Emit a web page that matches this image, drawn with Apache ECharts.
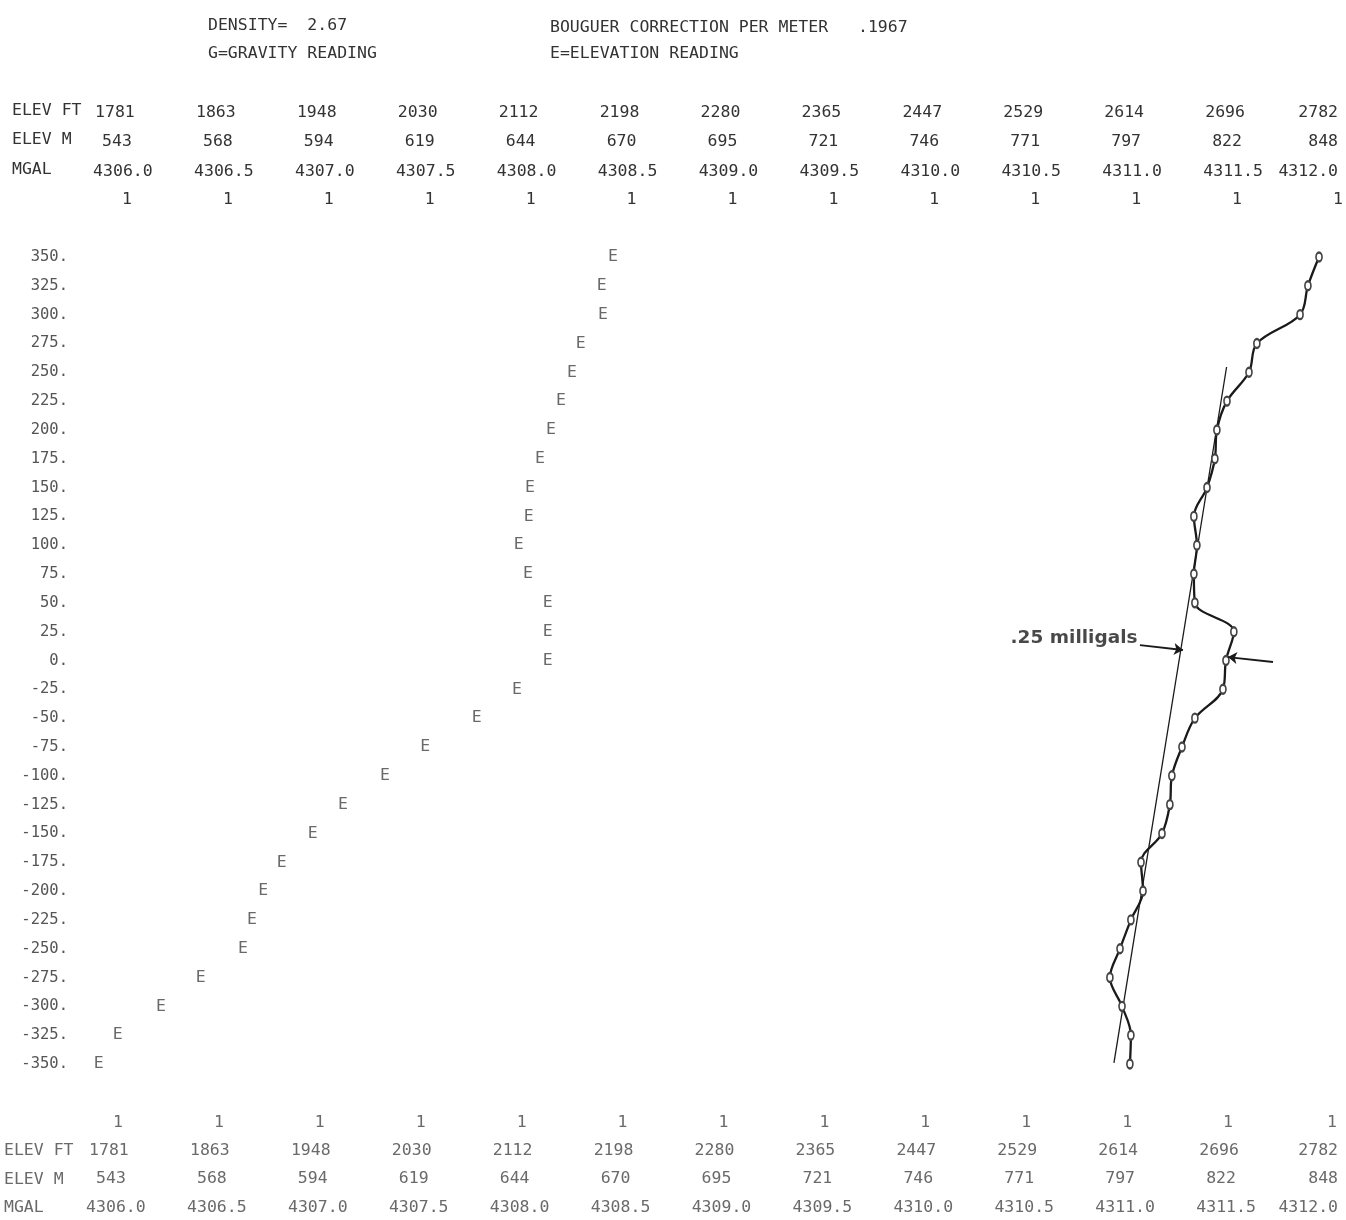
<!DOCTYPE html>
<html>
<head>
<meta charset="utf-8">
<script src="https://cdn.jsdelivr.net/npm/echarts@6/dist/echarts.min.js"></script>
<style>
html,body{margin:0;padding:0;background:#fff;}
#chart{width:1346px;height:1220px;}
</style>
</head>
<body>
<div id="chart"></div>
<script>
// ---- tick labels (printed header / footer rows) ----
const elevFt = ['1781','1863','1948','2030','2112','2198','2280','2365','2447','2529','2614','2696','2782'];
const elevM  = ['543','568','594','619','644','670','695','721','746','771','797','822','848'];
const mgal   = ['4306.0','4306.5','4307.0','4307.5','4308.0','4308.5','4309.0','4309.5','4310.0','4310.5','4311.0','4311.5','4312.0'];

// ---- vertical positions of the printed rows (y axis values) ----
const levels = [350,325,300,275,250,225,200,175,150,125,100,75,50,25,0,-25,-50,-75,-100,-125,-150,-175,-200,-225,-250,-275,-300,-325,-350];

// ---- E = elevation reading (metres) at each level ----
const elevReading = [665.4,662.6,662.9,657.3,655.1,652.3,649.8,647.0,644.5,644.2,641.7,644.0,649.0,649.0,649.0,641.2,631.1,618.1,608.0,597.4,589.8,582.0,577.3,574.5,572.2,561.6,551.6,540.7,535.9];

// ---- G = gravity reading (mgal) at each level ----
const gravReading = [4311.906,4311.851,4311.812,4311.598,4311.559,4311.450,4311.400,4311.390,4311.351,4311.286,4311.301,4311.286,4311.291,4311.484,4311.445,4311.430,4311.291,4311.227,4311.177,4311.167,4311.128,4311.024,4311.034,4310.974,4310.920,4310.870,4310.930,4310.974,4310.969];

// ---- hand-drawn regional trend line (mgal, level) ----
const trendX = [4311.448, 4310.890];
const trendY = [254.6, -349.1];

// ---- hand-drawn annotation arrows ----
const arrowLeftX = [4311.019, 4311.232];
const arrowLeftY = [13.4, 9.1];
const arrowRightX = [4311.678, 4311.455];
const arrowRightY = [-1.3, 3.0];
const annotationText = '.25 milligals';

const F = '"DejaVu Sans Mono", "Liberation Mono", monospace';
const FS = 16.5;
const mgMin = 4305.5, mgMax = 4312, mgStep = 0.5;
const mStep = (848 - 543) / 12;
const elevMin = 543 - mStep, elevMax = 848;

function idxOf(v){ const i = Math.round((v - 4306) / mgStep); return (i < 0 || i > 12) ? -1 : i; }

function threeRow(v){
  const i = idxOf(v);
  if (i < 0) return '';
  const s = i === 12 ? 'L' : '';
  return '{ft' + s + '|' + elevFt[i] + '}\n{m' + s + '|' + elevM[i] + '}\n{g' + s + '|' + mgal[i] + '}';
}
function oneRow(v){
  const i = idxOf(v);
  if (i < 0) return '';
  return i === 12 ? '{oL|1}' : '{o|1}';
}
function pr(shift){ return shift > 0 ? [0, 0, 0, 2*shift] : [0, -2*shift, 0, 0]; }

const topColor = '#333', botColor = '#6a6a6a';
function rich3(color, sh, lh){
  const b = {fontFamily:F, fontSize:FS, color:color, lineHeight:lh};
  return {
    ft: Object.assign({padding: pr(sh.ft)}, b),
    m:  Object.assign({padding: pr(sh.m)}, b),
    g:  Object.assign({padding: pr(sh.g)}, b),
    ftL: Object.assign({padding: [0,0,0,0]}, b),
    mL:  Object.assign({padding: [0,0,0,0]}, b),
    gL:  Object.assign({padding: [0,0,0,0]}, b)
  };
}
function rich1(color, sh, shL){
  const b = {fontFamily:F, fontSize:FS, color:color};
  return { o: Object.assign({padding: pr(sh)}, b), oL: Object.assign({padding: pr(shL)}, b) };
}

function baseX(extra){
  return Object.assign({
    type:'value', min:mgMin, max:mgMax, interval:mgStep, gridIndex:0,
    axisLine:{show:false}, axisTick:{show:false}, splitLine:{show:false}
  }, extra);
}

const chart = echarts.init(document.getElementById('chart'), null, {renderer:'canvas'});
const titleStyle = {fontFamily:F, fontSize:FS, fontWeight:'normal', color:'#333'};
const option = {
  animation:false,
  backgroundColor:'#ffffff',
  title:[
    {text:'DENSITY=  2.67', subtext:'G=GRAVITY READING', left:203, top:12, itemGap:11,
     textStyle:titleStyle, subtextStyle:titleStyle},
    {text:'BOUGUER CORRECTION PER METER   .1967', subtext:'E=ELEVATION READING', left:545, top:14, itemGap:9,
     textStyle:titleStyle, subtextStyle:titleStyle}
  ],
  grid:{left:26, right:8, top:257, bottom:156, containLabel:false, outerBoundsMode:'none'},
  xAxis:[
    baseX({position:'bottom', axisLabel:{margin:50, hideOverlap:false, showMinLabel:true, showMaxLabel:true, formatter:oneRow, rich:rich1(botColor,-9,-6)}}),
    baseX({position:'bottom', axisLabel:{margin:72, hideOverlap:false, showMinLabel:true, showMaxLabel:true, alignMaxLabel:'right', formatter:threeRow,
      rich:rich3(botColor,{ft:-18,m:-16,g:-11},28.7)}}),
    baseX({position:'top', axisLabel:{margin:49, hideOverlap:false, showMinLabel:true, showMaxLabel:true, formatter:oneRow, rich:rich1(topColor,0,0)}}),
    baseX({position:'top', axisLabel:{margin:71, hideOverlap:false, showMinLabel:true, showMaxLabel:true, alignMaxLabel:'right', formatter:threeRow,
      rich:rich3(topColor,{ft:-12,m:-10,g:-4},29.5)}}),
    {type:'value', min:elevMin, max:elevMax, show:false, gridIndex:0}
  ],
  yAxis:{
    type:'value', min:-350, max:350, interval:25, offset:-44,
    axisLine:{show:false}, axisTick:{show:false}, splitLine:{show:false},
    axisLabel:{margin:2, fontFamily:F, fontSize:15.5, color:'#555', formatter: v => v + '.'}
  },
  graphic:[
    {type:'text', left:12, top:102, style:{text:'ELEV FT', font:FS+'px '+F, fill:topColor}},
    {type:'text', left:12, top:131, style:{text:'ELEV M', font:FS+'px '+F, fill:topColor}},
    {type:'text', left:12, top:161, style:{text:'MGAL', font:FS+'px '+F, fill:topColor}},
    {type:'text', left:4, top:1142, style:{text:'ELEV FT', font:FS+'px '+F, fill:botColor}},
    {type:'text', left:4, top:1171, style:{text:'ELEV M', font:FS+'px '+F, fill:botColor}},
    {type:'text', left:4, top:1199, style:{text:'MGAL', font:FS+'px '+F, fill:botColor}}
  ],
  series:[
    {
      name:'E', type:'scatter', xAxisIndex:4, yAxisIndex:0,
      data: levels.map((y,i) => [elevReading[i], y]),
      symbolSize:1, itemStyle:{color:'rgba(0,0,0,0)'},
      label:{show:true, position:'inside', formatter:'E', fontFamily:F, fontSize:FS, color:'#444'},
      silent:true
    },
    {
      name:'G', type:'line', xAxisIndex:0, yAxisIndex:0,
      data: levels.map((y,i) => [gravReading[i], y]),
      smooth:0.35, symbol:'emptyCircle', symbolSize:[6,9], showSymbol:true,
      lineStyle:{color:'#1a1a1a', width:2.3},
      itemStyle:{color:'#444', borderColor:'#444', borderWidth:1},
      silent:true
    },
    {
      name:'trend', type:'line', xAxisIndex:0, yAxisIndex:0,
      data: trendX.map((x,i) => [x, trendY[i]]),
      symbol:'none', lineStyle:{color:'#1a1a1a', width:1.3}, silent:true
    },
    {
      name:'note', type:'scatter', xAxisIndex:0, yAxisIndex:0,
      data: [[arrowLeftX[0], arrowLeftY[0]]],
      symbolSize:1, itemStyle:{color:'rgba(0,0,0,0)'}, silent:true,
      label:{show:true, position:'left', distance:2, formatter:annotationText,
        fontFamily:'"DejaVu Sans", sans-serif', fontSize:18.5, fontWeight:'bold', color:'#1a1a1a', offset:[0,-7]},
      markLine:{silent:true, symbol:['none','arrow'], symbolSize:9, label:{show:false},
        lineStyle:{color:'#1a1a1a', width:1.8, type:'solid'},
        data:[
          [{coord:[arrowLeftX[0], arrowLeftY[0]]},{coord:[arrowLeftX[1], arrowLeftY[1]]}],
          [{coord:[arrowRightX[0], arrowRightY[0]]},{coord:[arrowRightX[1], arrowRightY[1]]}]
        ]}
    }
  ]
};
chart.setOption(option);
</script>
</body>
</html>
